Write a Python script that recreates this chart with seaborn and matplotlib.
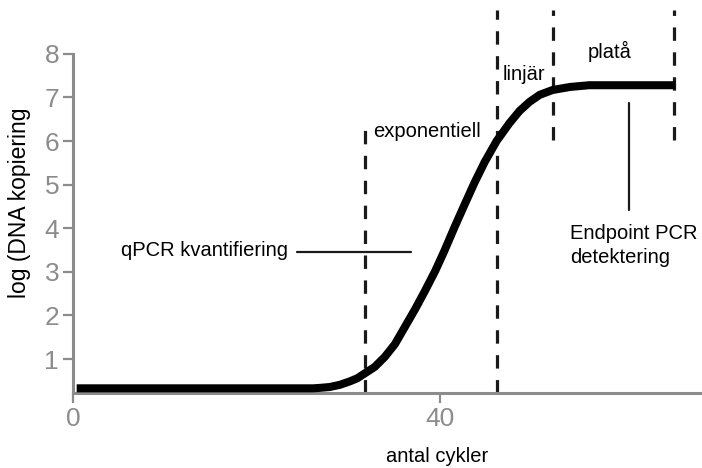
import matplotlib
matplotlib.use("Agg")
import matplotlib.pyplot as plt
import seaborn as sns
import pandas as pd

# Curve (cycle number, log of DNA copies)
cycles = [0.4, 10, 20, 26.2, 26.9, 28.0, 29.1, 30.2, 31.0, 31.8, 32.9, 34.0, 35.1,
          36.2, 37.3, 38.4, 39.5, 40.5, 41.6, 42.7, 43.8, 44.9, 46.2, 47.6,
          48.7, 49.8, 50.9, 52.3, 54.2, 56.3, 58.5, 65.7]
log_copies = [0.33, 0.33, 0.33, 0.33, 0.34, 0.36, 0.41, 0.49, 0.56, 0.67, 0.82, 1.05, 1.34,
              1.74, 2.14, 2.57, 3.02, 3.48, 4.02, 4.54, 5.05, 5.52, 6.00, 6.41,
              6.69, 6.90, 7.06, 7.17, 7.24, 7.28, 7.28, 7.28]

# Phase boundaries (dashed lines) and their vertical extent
phase_x = [31.8, 46.2, 52.3, 65.6]
phase_y0 = [0.22, 0.22, 6.02, 6.02]
phase_y1 = [6.48, 9.0, 9.0, 9.0]

x_ticks = [0, 40]
y_ticks = [1, 2, 3, 4, 5, 6, 7, 8]

df = pd.DataFrame({"antal cykler": cycles, "log": log_copies})

sns.set_style("white")
plt.rcParams['font.family'] = ['Liberation Sans', 'DejaVu Sans']
plt.rcParams['text.color'] = 'black'

fig = plt.figure(figsize=(7.02, 4.68), dpi=100)
ax = fig.add_axes([0.104, 0.160, 0.896, 0.725])

gray = "#8c8c8c"

# phase separators
for x, y0, y1 in zip(phase_x, phase_y0, phase_y1):
    ax.plot([x, x], [y0, y1], color="#1a1a1a", lw=2.3, ls=(0, (4.2, 3.6)),
            clip_on=False, zorder=2)

sns.lineplot(data=df, x="antal cykler", y="log", ax=ax, color="black",
             lw=5.8, solid_capstyle="butt", solid_joinstyle="round", zorder=3)

ax.set_xlim(0, 68.6)
ax.set_ylim(0.22, 8)
ax.set_xticks(x_ticks)
ax.set_yticks(y_ticks)

for s in ["top", "right"]:
    ax.spines[s].set_visible(False)
for s in ["left", "bottom"]:
    ax.spines[s].set_color(gray)
    ax.spines[s].set_linewidth(2.2)

ax.tick_params(axis="both", colors=gray, labelsize=19, length=7, width=1.6,
               direction="out", left=True, bottom=True, pad=3)

ax.set_xlabel("antal cykler", fontsize=14.5, color="black")
ax.set_ylabel("log (DNA kopiering", fontsize=16.5, color="black")
ax.xaxis.set_label_coords(0.579, -0.16)
ax.yaxis.set_label_coords(-0.066, 0.56)

# phase names
ax.text(32.7, 6.23, "exponentiell", fontsize=14.5, ha="left", va="center")
ax.text(49.2, 7.52, "linjär", fontsize=14.5, ha="center", va="center")
ax.text(58.5, 8.05, "platå", fontsize=14.5, ha="center", va="center", clip_on=False)

# qPCR annotation
ax.text(23.4, 3.49, "qPCR kvantifiering", fontsize=14.5, ha="right", va="center")
ax.plot([24.4, 36.9], [3.46, 3.46], color="#1a1a1a", lw=1.6, zorder=2)

# Endpoint annotation
ax.plot([60.6, 60.6], [4.42, 6.88], color="#1a1a1a", lw=1.6, zorder=2)
ax.text(54.2, 3.60, "Endpoint PCR\ndetektering", fontsize=14.5, ha="left",
        va="center", linespacing=1.32, clip_on=False)

fig.savefig("out.png", dpi=100)
